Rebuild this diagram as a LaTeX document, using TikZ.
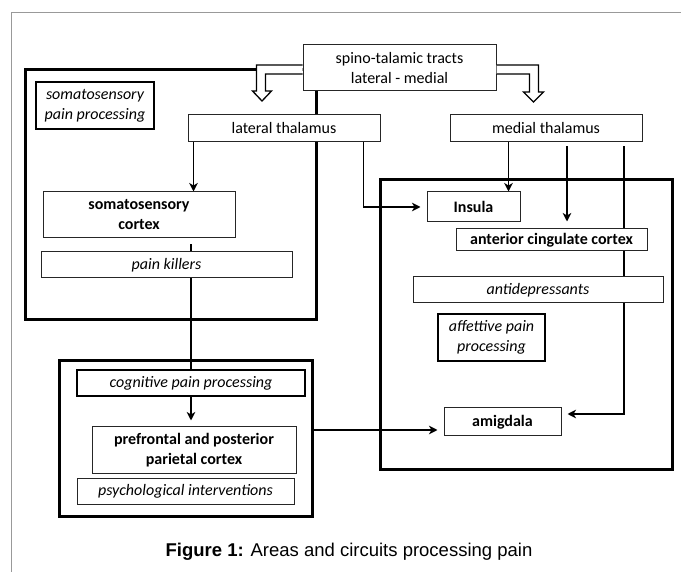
\documentclass[tikz,border=0pt]{standalone}
\usepackage{fontspec}
\setmainfont{Carlito}
\newfontfamily\capfont{Liberation Sans}
\usetikzlibrary{arrows.meta,calc,backgrounds}
\begin{document}
\begin{tikzpicture}[x=1pt,y=-1pt,
  box/.style={draw=black!85, line width=1pt, fill=white, inner sep=0pt, align=center, font=\fontsize{16}{20}\selectfont},
  bbox/.style={box, font=\fontsize{16}{20}\selectfont\bfseries},
  ibox/.style={box, font=\fontsize{16}{20}\selectfont\itshape},
  tagbox/.style={ibox, draw=black, line width=2pt},
  frame/.style={draw=black, line width=3pt, inner sep=0pt},
  arr/.style={line width=1.9pt, -{Stealth[length=8.5pt,width=8.5pt,inset=2.5pt]}},
  ln/.style={line width=1.9pt},
  hollow/.style={draw=black, line width=1.3pt, fill=white, line join=miter}]

\useasboundingbox (0,0) rectangle (681,572);

% outer gray frame
\draw[black!40, line width=1pt] (11,572) -- (11,13) -- (681,13);

% group frames
\node[frame, minimum width=291pt, minimum height=250pt] (leftframe) at (170.5,195) {};
\node[frame, minimum width=253pt, minimum height=155pt] (lowframe) at (185.5,438.5) {};
\node[frame, minimum width=292pt, minimum height=289pt] (rightframe) at (526,324.5) {};

% boxes
\node[box, minimum width=193pt, minimum height=46pt] (spino) at (399.5,68) {spino-talamic tracts\\lateral - medial};
\node[box, minimum width=192pt, minimum height=27pt] (lat) at (284,128.5) {lateral thalamus};
\node[box, minimum width=192pt, minimum height=27pt] (med) at (546,128.5) {medial thalamus};
\node[tagbox, minimum width=118pt, minimum height=47pt] (sompp) at (95,105.5) {somatosensory\\pain processing};
\node[bbox, minimum width=192pt, minimum height=46pt] (somcx) at (139,215) {somatosensory\\cortex};
\node[ibox, minimum width=251pt, minimum height=26pt] (pk) at (166.5,265) {pain killers};
\node[tagbox, minimum width=228pt, minimum height=26pt] (cog) at (191,383) {cognitive pain processing};
\node[bbox, minimum width=204pt, minimum height=46pt] (pre) at (194,450) {prefrontal and posterior\\parietal cortex};
\node[ibox, minimum width=217pt, minimum height=26pt] (psy) at (185.5,491) {psychological interventions};
\node[bbox, minimum width=93pt, minimum height=30pt] (insula) at (473.5,207) {Insula};
\node[bbox, minimum width=191pt, minimum height=22pt] (acc) at (551.5,240) {anterior cingulate cortex};
\node[ibox, minimum width=250pt, minimum height=26pt] (anti) at (538,290) {antidepressants};
\node[tagbox, minimum width=107pt, minimum height=47pt] (aff) at (491.5,337.5) {affettive pain\\processing};
\node[bbox, minimum width=117pt, minimum height=28pt] (amig) at (502.5,422) {amigdala};

% hollow arrows from the spino-talamic tracts
\draw[hollow] ([yshift=3pt]spino.west) -- ++(-46,0) -- ++(0,26) -- ++(-4,0) -- ++(9.5,10)
  -- ++(9.5,-10) -- ++(-6,0) -- ++(0,-17) -- ([yshift=-6pt]spino.west);
\draw[hollow] ([yshift=3pt]spino.east) -- ++(42,0) -- ++(0,27) -- ++(5,0) -- ++(-10,10)
  -- ++(-10,-10) -- ++(6,0) -- ++(0,-18) -- ([yshift=-6pt]spino.east);

% connectors
\begin{scope}[on background layer]
\draw[arr] ([xshift=6pt]lat.south west) -- ([xshift=6pt]lat.south west |- somcx.north);
\draw[ln, shorten <=6pt] (cog.north |- somcx.south) -- (cog.north);
\draw[arr, shorten >=6pt] (cog.south) -- (cog.south |- pre.north);
\draw[arr, shorten >=6pt] ([xshift=-17pt]lat.south east) |- (insula.west);
\draw[arr] ([xshift=-12pt]insula.north east |- med.south) -- ([xshift=-12pt]insula.north east);
\draw[arr, shorten <=4pt, shorten >=7pt] ([xshift=21pt]med.south) -- ([xshift=21pt]med.south |- acc.north);
\draw[arr, shorten <=4pt, shorten >=6pt] ([xshift=78pt]med.south) |- ([yshift=8pt]amig.east);
\draw[arr, shorten >=6pt] ([yshift=8.5pt]lowframe.east) -- ([yshift=-8pt]amig.west);
\end{scope}

% caption
\node[anchor=base, inner sep=0pt, font=\capfont\fontsize{18.5}{22}\selectfont] (caption) at (349,556) {\textbf{Figure 1:} Areas and circuits processing pain};
\end{tikzpicture}
\end{document}
